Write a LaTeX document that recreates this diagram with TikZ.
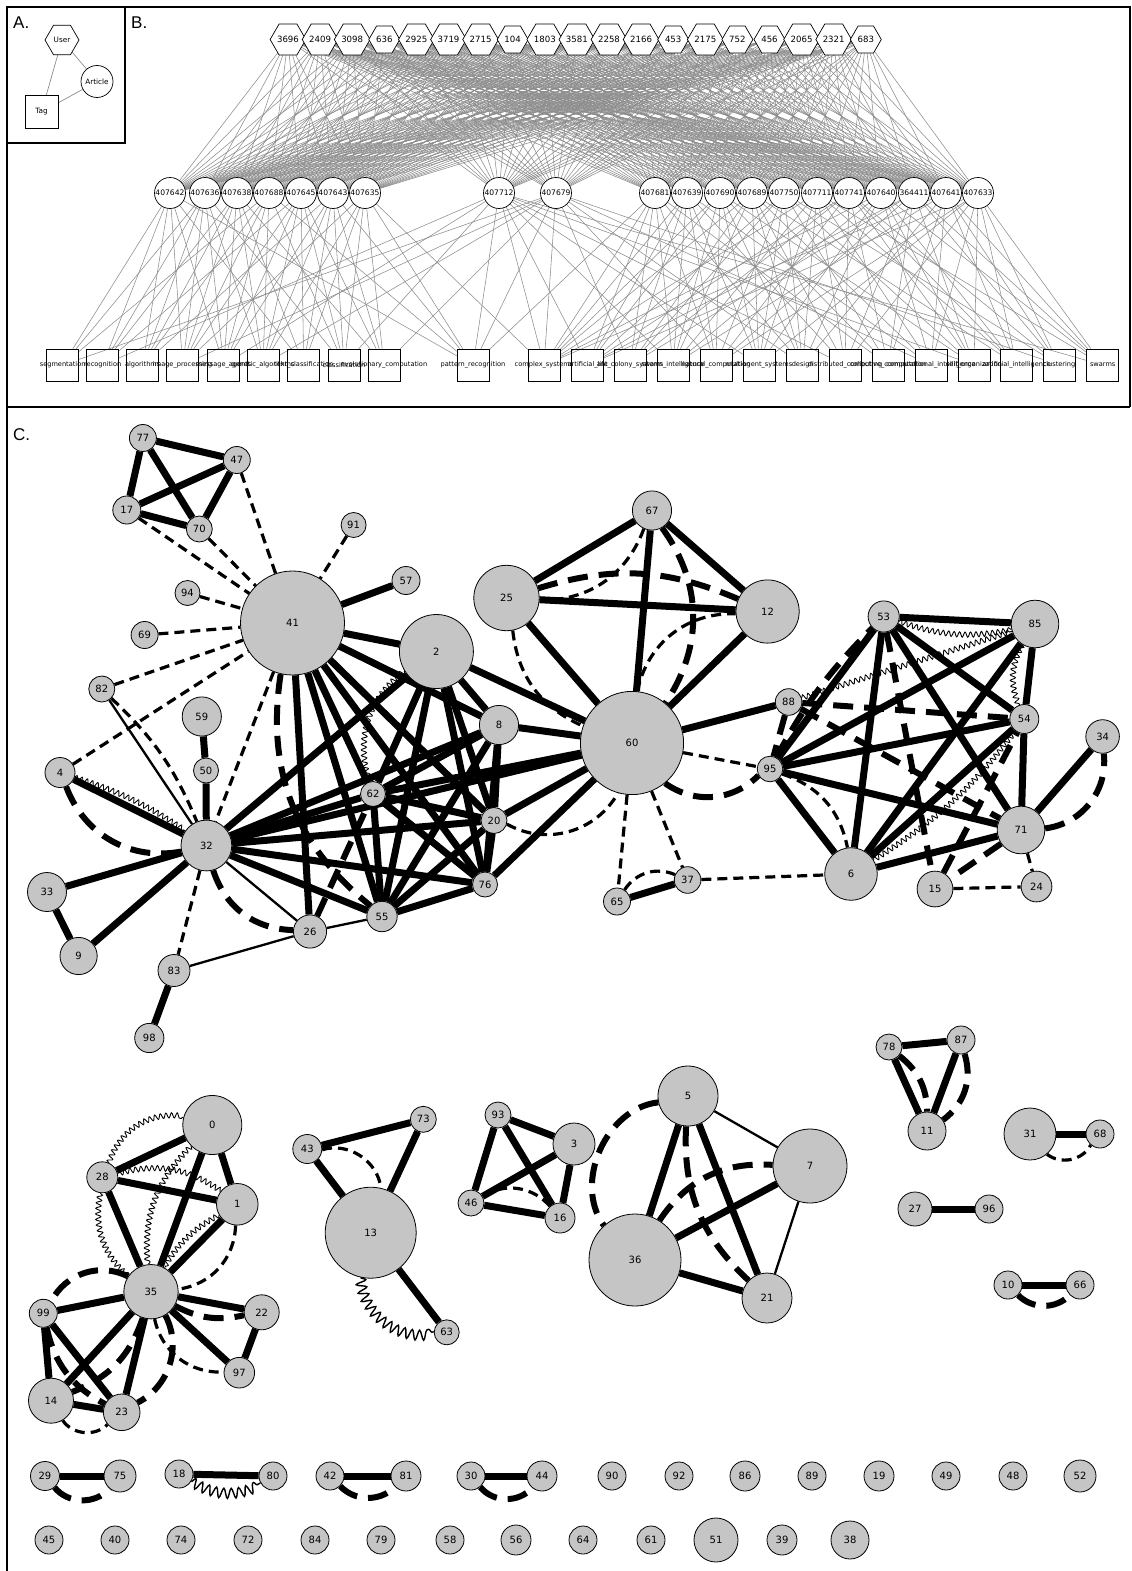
\documentclass[tikz,border=0pt]{standalone}
\usepackage{fontspec}
\setmainfont{DejaVu Sans}
\newfontfamily\panelfont{Liberation Sans}
\usetikzlibrary{shapes.geometric,decorations.pathmorphing}
\pgfdeclarelayer{edges}
\pgfsetlayers{edges,main}
\definecolor{nodegray}{RGB}{196,197,196}
\definecolor{bline}{RGB}{140,140,140}
\newcommand\mkC[4]{\node[cn,minimum size={2*#4}] (n#1) at (#2,#3) {#1};}
\begin{document}
\begin{tikzpicture}[x=1pt,y=-1pt,
  cn/.style={circle,draw=black,line width=0.8pt,fill=nodegray,inner sep=0pt,font=\fontsize{10}{10}\selectfont},
  hexn/.style={regular polygon,regular polygon sides=6,minimum size=31,draw=black,line width=0.7pt,fill=white,inner sep=0pt,font=\fontsize{8.6}{9}\selectfont},
  bcirc/.style={circle,draw=black,line width=0.7pt,fill=white,minimum size=31,inner sep=0pt,font=\fontsize{7.6}{8}\selectfont},
  sqn/.style={rectangle,draw=black,line width=0.6pt,minimum width=32,minimum height=32,inner sep=0pt},
  taglab/.style={font=\fontsize{6.6}{7}\selectfont,inner sep=0pt},
  gline/.style={draw=bline,line width=0.55pt},
  lnthick/.style={line width=7pt},
  lnthin/.style={line width=2.3pt},
  lndash/.style={line width=3.2pt,dash pattern=on 10pt off 6pt},
  lndashb/.style={line width=6pt,dash pattern=on 20pt off 11pt},
  lnwave/.style={line width=0.9pt,decorate,decoration={snake,amplitude=2.6pt,segment length=5.5pt}},
  lnwaveb/.style={line width=1.4pt,decorate,decoration={snake,amplitude=5pt,segment length=8pt}},
  plab/.style={anchor=base west,inner sep=0pt,font=\panelfont\fontsize{17}{17}\selectfont}
]
\useasboundingbox (0,0) rectangle (1132,1571);

% ---------- frames ----------
\draw[line width=2pt] (7,1571) -- (7,7) -- (1130,7) -- (1130,407);
\draw[line width=2pt] (7,407) -- (1130,407);
\draw[line width=2.5pt] (7,143) -- (125,143) -- (125,7);
\node[plab] (labA) at (13,29) {A.};
\node[plab] (labB) at (131,29) {B.};
\node[plab] (labC) at (13,440) {C.};

% ---------- panel A ----------
\node[hexn,minimum size=34,font=\fontsize{7.3}{8}\selectfont] (user) at (62,40) {User};
\node[bcirc,minimum size=32,font=\fontsize{7.3}{8}\selectfont] (article) at (97,81.5) {Article};
\node[sqn,minimum width=33,minimum height=33,font=\fontsize{7.3}{8}\selectfont] (tag) at (41.5,112) {Tag};
\begin{pgfonlayer}{edges}
\draw[gline,line width=0.7pt] (user) -- (tag);
\draw[gline,line width=0.7pt] (user) -- (article);
\draw[gline,line width=0.7pt] (article) -- (tag);
\end{pgfonlayer}

% ---------- panel B ----------
\foreach \lab [count=\i] in {3696,2409,3098,636,2925,3719,2715,104,1803,3581,2258,2166,453,2175,752,456,2065,2321,683}
  \node[hexn] (h\i) at ({288+32.1*(\i-1)},39.5) {\lab};
\foreach \xx/\lab [count=\i] in {170/407642,205/407636,237/407638,269/407688,301/407645,333/407643,365/407635,499/407712,556/407679,655/407681,687/407639,720/407690,752/407689,784/407750,817/407711,849/407741,881/407640,914/364411,946/407641,978/407633}
  \node[bcirc] (c\i) at (\xx,193) {\lab};
\foreach \xx/\lab [count=\i] in {46.7/segmentation,86.7/recognition,126.7/algorithms,166.7/image\_processing,207.7/message\_agents,247/genetic\_algorithms,287.7/text\_classification,328/classification,368/evolutionary\_computation,457/pattern\_recognition,528/complex\_systems,571.7/artificial\_life,614/ant\_colony\_systems,657/swarm\_intelligence,700/natural\_computation,743/multiagent\_systems,786.7/design,829/distributed\_computing,872/collective\_computation,915/computational\_intelligence,958/self\_organization,1000.7/artificial\_intelligence,1043/clustering,1086.7/swarms}
  {\node[sqn] (s\i) at ({\xx+16},365) {};
   \node[taglab] (t\i) at (s\i.center) {\lab};}
\begin{pgfonlayer}{edges}
\foreach \i in {1,...,19} {\foreach \j in {1,...,20} {\draw[gline] (h\i) -- (c\j);}}
\foreach \c/\l in {1/{1,2,3,4,5,7,10},2/{1,2,3,4,5,6,8},3/{2,3,4,5,6,7,9},4/{1,3,4,5,6,8,10},5/{2,4,5,6,7,8,9},6/{3,5,6,7,8,9,10},7/{4,6,7,8,9,10,11},
  8/{2,5,8,10,11,12,14,16,18,21,24},9/{1,4,6,9,10,11,13,15,17,20,23},
  10/{10,11,12,13,14,15,17,19},11/{11,12,13,14,15,16,18,20},12/{11,12,14,15,16,17,19,21},13/{11,13,14,16,17,18,20,22},
  14/{12,13,15,16,17,19,21,23},15/{11,14,16,17,18,20,22,24},16/{12,13,15,18,19,21,22,23},17/{11,14,16,17,20,21,22,24},
  18/{12,13,15,18,19,21,23,24},19/{11,14,17,19,20,22,23,24},20/{12,15,16,18,20,21,22,23,24}}
  {\foreach \s in \l {\draw[gline] (c\c) -- (s\s);}}
\end{pgfonlayer}

% ---------- panel C nodes ----------
\mkC{77}{142.9}{438}{13.5}
\mkC{47}{236.8}{460}{13.5}
\mkC{17}{126.8}{510}{14}
\mkC{70}{199.3}{529}{13}
\mkC{91}{353.6}{525}{12.5}
\mkC{57}{406}{580.5}{14}
\mkC{94}{187.5}{593}{12.5}
\mkC{41}{292.5}{623}{52}
\mkC{69}{144.6}{635}{13.5}
\mkC{2}{436.4}{651.5}{37}
\mkC{25}{506.5}{598}{32.7}
\mkC{82}{101.8}{689}{13}
\mkC{59}{201.8}{716.5}{19.6}
\mkC{8}{499}{725}{19.6}
\mkC{4}{60}{772.5}{15}
\mkC{50}{206}{770.5}{12.5}
\mkC{62}{373}{794}{12.5}
\mkC{20}{494}{820.5}{13}
\mkC{32}{206.4}{845.5}{25.4}
\mkC{33}{47}{892}{19.5}
\mkC{76}{485}{884.5}{12.5}
\mkC{55}{382}{916.5}{15.2}
\mkC{26}{310}{931.5}{16.6}
\mkC{9}{78.6}{956}{18.6}
\mkC{83}{174}{970.5}{16}
\mkC{98}{149.3}{1038}{14.6}
\mkC{67}{652}{510.5}{19.6}
\mkC{12}{767.6}{611.5}{31.6}
\mkC{53}{883.7}{616.5}{15.6}
\mkC{85}{1035}{624}{23.8}
\mkC{60}{632}{743}{51.6}
\mkC{88}{788.6}{702}{13.3}
\mkC{54}{1024.3}{719}{14.5}
\mkC{34}{1102.6}{736.5}{16.8}
\mkC{95}{770}{769}{12.8}
\mkC{71}{1021}{830}{23.8}
\mkC{6}{851}{874}{26.3}
\mkC{37}{687.6}{880}{13.3}
\mkC{65}{617}{901.5}{13.5}
\mkC{15}{935}{889}{17.9}
\mkC{24}{1036.5}{886.5}{15.4}
\mkC{0}{212.3}{1125}{29.5}
\mkC{28}{102.3}{1177.3}{15.5}
\mkC{1}{237.3}{1204.3}{20.8}
\mkC{43}{307.3}{1149}{14.5}
\mkC{73}{423.3}{1119.3}{13}
\mkC{13}{370.7}{1232.7}{45.5}
\mkC{35}{151}{1291.7}{27.2}
\mkC{99}{43.3}{1313.3}{14}
\mkC{22}{261.7}{1312.3}{17.5}
\mkC{63}{446.7}{1332.3}{12.5}
\mkC{97}{239.3}{1372.7}{15.3}
\mkC{14}{51}{1400.7}{22.5}
\mkC{23}{121.7}{1412.3}{18.3}
\mkC{93}{498}{1115}{13}
\mkC{3}{574}{1144}{21}
\mkC{46}{471}{1203}{13}
\mkC{16}{560}{1218}{15}
\mkC{5}{688}{1096}{30}
\mkC{7}{810}{1166}{37}
\mkC{36}{635}{1260}{46}
\mkC{21}{767}{1298}{25}
\mkC{78}{889}{1047}{13}
\mkC{87}{961}{1040}{14}
\mkC{11}{927}{1131}{19}
\mkC{31}{1030}{1134}{26}
\mkC{68}{1100}{1134}{14}
\mkC{27}{915}{1209}{17}
\mkC{96}{989}{1209}{14}
\mkC{10}{1008}{1285}{14}
\mkC{66}{1080}{1285}{14}
% bottom rows
\mkC{29}{45}{1476}{14.5}
\mkC{75}{120}{1476}{16}
\mkC{18}{179}{1474}{14}
\mkC{80}{273}{1476}{14}
\mkC{42}{330}{1476}{14}
\mkC{81}{406}{1476}{15}
\mkC{30}{471}{1476}{14}
\mkC{44}{542}{1476}{15}
\mkC{90}{612}{1476}{14}
\mkC{92}{679}{1476}{14}
\mkC{86}{745}{1476}{15}
\mkC{89}{812}{1476}{14}
\mkC{19}{879}{1476}{15}
\mkC{49}{946}{1476}{14}
\mkC{48}{1013}{1476}{14}
\mkC{52}{1080}{1476}{16}
\mkC{45}{49}{1540}{14}
\mkC{40}{115}{1540}{14}
\mkC{74}{181}{1540}{14}
\mkC{72}{248}{1540}{14}
\mkC{84}{315}{1540}{14}
\mkC{79}{381}{1540}{14}
\mkC{58}{450}{1540}{14}
\mkC{56}{516}{1540}{15}
\mkC{64}{583}{1540}{14}
\mkC{61}{651}{1540}{14}
\mkC{51}{716}{1540}{22}
\mkC{39}{782}{1540}{15}
\mkC{38}{850}{1540}{19}

% ---------- panel C edges ----------
\begin{pgfonlayer}{edges}
\foreach \a/\b in {77/47,77/17,77/70,47/17,47/70,17/70,41/57,59/50,50/32,4/32,32/33,32/9,33/9,83/98,
  41/2,41/8,41/62,41/20,41/76,41/55,41/26,32/2,32/8,32/62,32/60,32/20,32/76,32/55,2/62,2/55,2/76,2/20,2/8,2/60,
  8/62,8/20,8/76,8/55,8/60,62/20,62/76,62/55,62/60,20/76,20/55,20/60,76/55,76/60,
  25/67,25/12,25/60,67/12,67/60,12/60,60/88,65/37,
  53/85,53/6,53/71,53/54,53/95,85/95,85/6,85/54,95/54,95/71,95/6,6/54,6/71,71/54,71/34,
  0/28,0/35,0/1,28/1,28/35,1/35,35/99,35/22,35/97,35/14,35/23,99/14,99/23,14/23,22/97,
  43/73,43/13,73/13,13/63,93/3,93/46,93/16,3/46,3/16,46/16,
  5/36,5/21,36/7,36/21,78/87,78/11,87/11,31/68,27/96,10/66,29/75,18/80,42/81,30/44}
  {\draw[lnthick] (n\a) -- (n\b);}
\foreach \a/\b in {82/32,83/26,26/55,32/26,5/7,7/21}
  {\draw[lnthin] (n\a) -- (n\b);}
\foreach \a/\b/\bd in {17/41/0,70/41/0,47/41/0,91/41/0,94/41/0,69/41/0,82/41/0,4/41/0,41/32/0,32/83/0,60/65/0,60/37/0,37/6/0,71/24/0,15/24/0,60/95/0,
  82/32/12,67/25/35,60/12/40,25/60/-30,20/60/-45,65/37/40,95/6/30,1/35/40,14/23/-50,35/97/-40,43/13/50,31/68/-50,46/16/40}
  {\draw[lndash] (n\a) to[bend left=\bd] (n\b);}
\foreach \a/\b/\bd in {4/32/-40,32/26/-35,41/55/-30,26/62/0,25/12/20,67/60/35,60/95/-40,
  95/53/8,88/54/0,88/71/0,53/15/0,15/54/0,71/15/0,88/95/0,71/34/-45,
  35/99/-45,35/23/45,35/14/25,99/23/-25,35/22/-20,
  5/36/-60,36/7/30,5/21/-25,78/11/25,87/11/35,10/66/-45,29/75/-50,42/81/-45,30/44/-50}
  {\draw[lndashb] (n\a) to[bend left=\bd] (n\b);}
\foreach \a/\b/\bd in {4/32/8,2/62/-35,53/85/-15,88/85/0,85/54/-25,6/54/-10,28/0/40,0/35/-25,28/1/25,28/35/-30,1/35/-15}
  {\draw[lnwave] (n\a) to[bend left=\bd] (n\b);}
\foreach \a/\b/\bd in {13/63/-50,18/80/-30}
  {\draw[lnwaveb] (n\a) to[bend left=\bd] (n\b);}
\end{pgfonlayer}
\end{tikzpicture}
\end{document}
